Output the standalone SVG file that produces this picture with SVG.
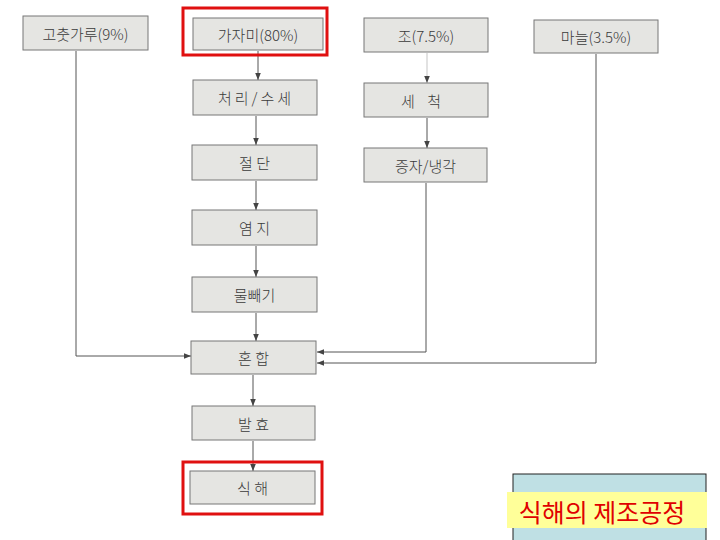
<svg xmlns="http://www.w3.org/2000/svg" width="720" height="540" viewBox="0 0 720 540">
<defs>
<marker id="ah" viewBox="0 0 10 10" refX="10" refY="5" markerWidth="7" markerHeight="7" markerUnits="userSpaceOnUse" orient="auto">
<path d="M0,1 L10,5 L0,9 Z" fill="#444"/>
</marker>
<style>
.box{fill:#e5e5e2;stroke:#777;stroke-width:1}
.lbl{font-family:"Noto Sans CJK KR","Noto Sans",sans-serif;font-size:15px;font-weight:300;fill:#3a3a3a;text-anchor:middle;dominant-baseline:central}
.conn{fill:none;stroke:#555;stroke-width:1;marker-end:url(#ah)}
.hl{fill:none;stroke:#e01010;stroke-width:3}
</style>
</defs>
<rect width="720" height="540" fill="#ffffff"/>
<g id="connectors">
<path class="conn" d="M258,51 V80"/>
<path class="conn" d="M256,116 V145"/>
<path class="conn" d="M256,181 V210"/>
<path class="conn" d="M256,246 V277"/>
<path class="conn" d="M256,313 V341"/>
<path class="conn" d="M253,375 V406"/>
<path class="conn" d="M253,441 V471"/>
<path class="conn" d="M427,53 V83" stroke-opacity="0.35"/>
<path class="conn" d="M427,118 V148"/>
<path class="conn" d="M76,51 V356 H191"/>
<path class="conn" d="M426,183 V352 H317"/>
<path class="conn" d="M596,54 V363 H317"/>
</g>
<g id="n1"><rect class="box" x="23" y="16" width="125" height="34"/><text class="lbl" x="85.5" y="33">고춧가루(9%)</text></g>
<g id="n2"><rect class="box" x="193" y="18" width="130" height="32"/><text class="lbl" x="258" y="34">가자미(80%)</text><rect class="hl" x="183" y="8" width="144" height="47"/></g>
<g id="n3"><rect class="box" x="364" y="18" width="124" height="34"/><text class="lbl" x="426" y="35">조(7.5%)</text></g>
<g id="n4"><rect class="box" x="534" y="20" width="124" height="33"/><text class="lbl" x="596" y="36.5">마늘(3.5%)</text></g>
<g id="n5"><rect class="box" x="193" y="80" width="124" height="35"/><text class="lbl" x="256" y="97.5" letter-spacing="3">처리/수세</text></g>
<g id="n6"><rect class="box" x="364" y="83" width="124" height="34"/><text class="lbl" x="421" y="100" word-spacing="9">세 척</text></g>
<g id="n7"><rect class="box" x="192" y="145" width="125" height="35"/><text class="lbl" x="254.5" y="162.5">절 단</text></g>
<g id="n8"><rect class="box" x="364" y="148" width="123" height="34"/><text class="lbl" x="425.5" y="165">증자/냉각</text></g>
<g id="n9"><rect class="box" x="192" y="210" width="125" height="35"/><text class="lbl" x="254.5" y="227.5">염 지</text></g>
<g id="n10"><rect class="box" x="192" y="277" width="125" height="35"/><text class="lbl" x="254.5" y="294.5">물빼기</text></g>
<g id="n11"><rect class="box" x="191" y="341" width="125" height="33"/><text class="lbl" x="253.5" y="357.5">혼 합</text></g>
<g id="n12"><rect class="box" x="192" y="406" width="123" height="34"/><text class="lbl" x="253.5" y="423">발 효</text></g>
<g id="n13"><rect class="box" x="190" y="471" width="125" height="33"/><text class="lbl" x="252.5" y="487.5">식 해</text><rect class="hl" x="183" y="462" width="139" height="52"/></g>
<g id="caption">
<rect x="513" y="474" width="193" height="70" fill="#bfe0e4" stroke="#222" stroke-width="1"/>
<rect x="507" y="492" width="200" height="36" fill="#ffff99"/>
<text x="602" y="511" font-family="'Noto Sans CJK KR','Noto Sans',sans-serif" font-size="25" fill="#e00000" text-anchor="middle" dominant-baseline="central">식해의 제조공정</text>
</g>
</svg>
